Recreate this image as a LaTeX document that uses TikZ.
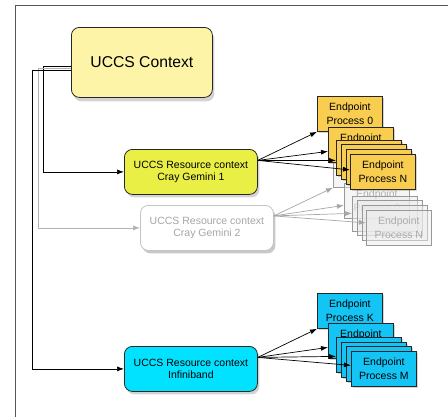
\documentclass[tikz,border=0pt]{standalone}
\usepackage{fontspec}
\setmainfont{Liberation Sans}
\usetikzlibrary{arrows.meta,shadows}
\definecolor{ctxfill}{HTML}{FDF4A8}
\definecolor{gemfill}{HTML}{E9EF45}
\definecolor{epyellow}{HTML}{F9CD4F}
\definecolor{ibfill}{HTML}{00E2FF}
\definecolor{epcyan}{HTML}{14C4F4}
\definecolor{framecol}{HTML}{555555}
\definecolor{ghostline}{HTML}{C4C4C4}
\definecolor{ghosttext}{HTML}{A6A6A6}
\begin{document}
\begin{tikzpicture}[x=1pt,y=-1pt,
  shad/.style={drop shadow={shadow xshift=2pt,shadow yshift=-3pt,opacity=0.35}},
  resbox/.style={draw=black!85, line width=0.8pt, rounded corners=8pt, align=center,
    inner sep=0pt, anchor=north west, minimum width=133pt, minimum height=45pt,
    font=\fontsize{10.5}{12.5}\selectfont, shad},
  epbox/.style={draw=black!85, line width=0.8pt, minimum width=65pt, minimum height=35pt,
    inner sep=0pt, anchor=north west, align=center, font=\fontsize{10.5}{13.5}\selectfont,
    drop shadow={shadow xshift=2pt,shadow yshift=-2pt,opacity=0.35}},
  ghostbox/.style={draw=black!40, line width=0.7pt, minimum width=65pt, minimum height=35pt,
    inner sep=0pt, anchor=north west, align=center, font=\fontsize{10.5}{13.5}\selectfont,
    fill=black!8, fill opacity=0.5, text opacity=0.6, text=black!50},
  conn/.style={line width=0.7pt, -{Latex[length=7pt,width=5pt]}},
  gconn/.style={line width=0.7pt, draw=ghosttext, -{Latex[length=7pt,width=5pt]}}
]
\useasboundingbox (0,0) rectangle (448,416);
% frame
\draw[framecol, line width=1pt] (15,418) -- (15,5) -- (450,5);

% main context
\node[draw=black!85, line width=0.8pt, rounded corners=8pt, fill=ctxfill, anchor=north west,
  minimum width=141pt, minimum height=70pt, inner sep=0pt, font=\fontsize{15.7}{18}\selectfont,
  drop shadow={shadow xshift=2pt,shadow yshift=-4pt,opacity=0.35}]
  (ctx) at (71,27) {UCCS Context};

% resource contexts
\node[resbox, fill=gemfill] (g1) at (124,149) {UCCS Resource context\\Cray Gemini 1};
\node[resbox, draw=ghostline, text=ghosttext, fill=white,
  drop shadow={shadow xshift=2pt,shadow yshift=-3pt,opacity=0.12}] (g2) at (140,205)
  {UCCS Resource context\\Cray Gemini 2};
\node[resbox, fill=ibfill] (ib) at (124,346) {UCCS Resource context\\Infiniband};

% ghost endpoints (Gemini 2)
\node[ghostbox] (ge0) at (333,152) {};
\node[ghostbox] (ge1) at (344,183) {Endpoint\\Process 0};
\node[ghostbox] (ge2) at (352,196) {};
\node[ghostbox] (ge3) at (357,200) {};
\node[ghostbox] (ge4) at (362,205) {};
\node[ghostbox] (geN) at (366,210) {Endpoint\\Process N};

\draw[gconn] ([yshift=12pt]g2.east) -- (ge0.south west);
\draw[gconn] ([yshift=12pt]g2.east) -- ([yshift=-4.5pt]ge1.west);
\draw[gconn] ([yshift=12pt]g2.east) -- ([yshift=0.5pt]ge2.west);
\draw[gconn] ([yshift=12pt]g2.east) -- ([yshift=5pt]geN.west);

% yellow endpoints (Gemini 1)
\node[epbox, fill=epyellow] (e0) at (317,96) {Endpoint\\Process 0};
\node[epbox, fill=epyellow] (e1) at (328,127) {Endpoint\\\phantom{Process 0}};
\node[epbox, fill=epyellow] (e2) at (336,140) {};
\node[epbox, fill=epyellow] (e3) at (341,144) {};
\node[epbox, fill=epyellow] (e4) at (346,149) {};
\node[epbox, fill=epyellow] (eN) at (350,154) {Endpoint\\Process N};

\draw[conn] ([yshift=11.5pt]g1.east) -- (e0.south west);
\draw[conn] ([yshift=11.5pt]g1.east) -- ([yshift=-6.5pt]e1.west);
\draw[conn] ([yshift=11.5pt]g1.east) -- ([yshift=-2.5pt]e2.west);
\draw[conn] ([yshift=11.5pt]g1.east) -- ([yshift=2pt]eN.west);

% cyan endpoints (Infiniband)
\node[epbox, fill=epcyan] (k0) at (317,293) {Endpoint\\Process K};
\node[epbox, fill=epcyan] (k1) at (328,323) {Endpoint\\\phantom{Process K}};
\node[epbox, fill=epcyan] (k2) at (336,337) {};
\node[epbox, fill=epcyan] (k3) at (341,342) {};
\node[epbox, fill=epcyan] (k4) at (346,346) {};
\node[epbox, fill=epcyan] (kM) at (351,351) {Endpoint\\Process M};

\draw[conn] ([yshift=11.5pt]ib.east) -- (k0.south west);
\draw[conn] ([yshift=11.5pt]ib.east) -- ([yshift=-6.5pt]k1.west);
\draw[conn] ([yshift=11.5pt]ib.east) -- ([yshift=-1.5pt]k2.west);
\draw[conn] ([yshift=11.5pt]ib.east) -- ([yshift=3.5pt]kM.west);

% connectors from the context
\draw[conn] ([yshift=-4pt]ctx.west) -- ++(-28,0) |- (g1.west);
\draw[gconn, draw=black!30] ([yshift=-6pt]ctx.west) -- ++(-33,0) |- (g2.west);
\draw[conn] ([yshift=-8pt]ctx.west) -- ++(-39,0) |- (ib.west);
\end{tikzpicture}
\end{document}
